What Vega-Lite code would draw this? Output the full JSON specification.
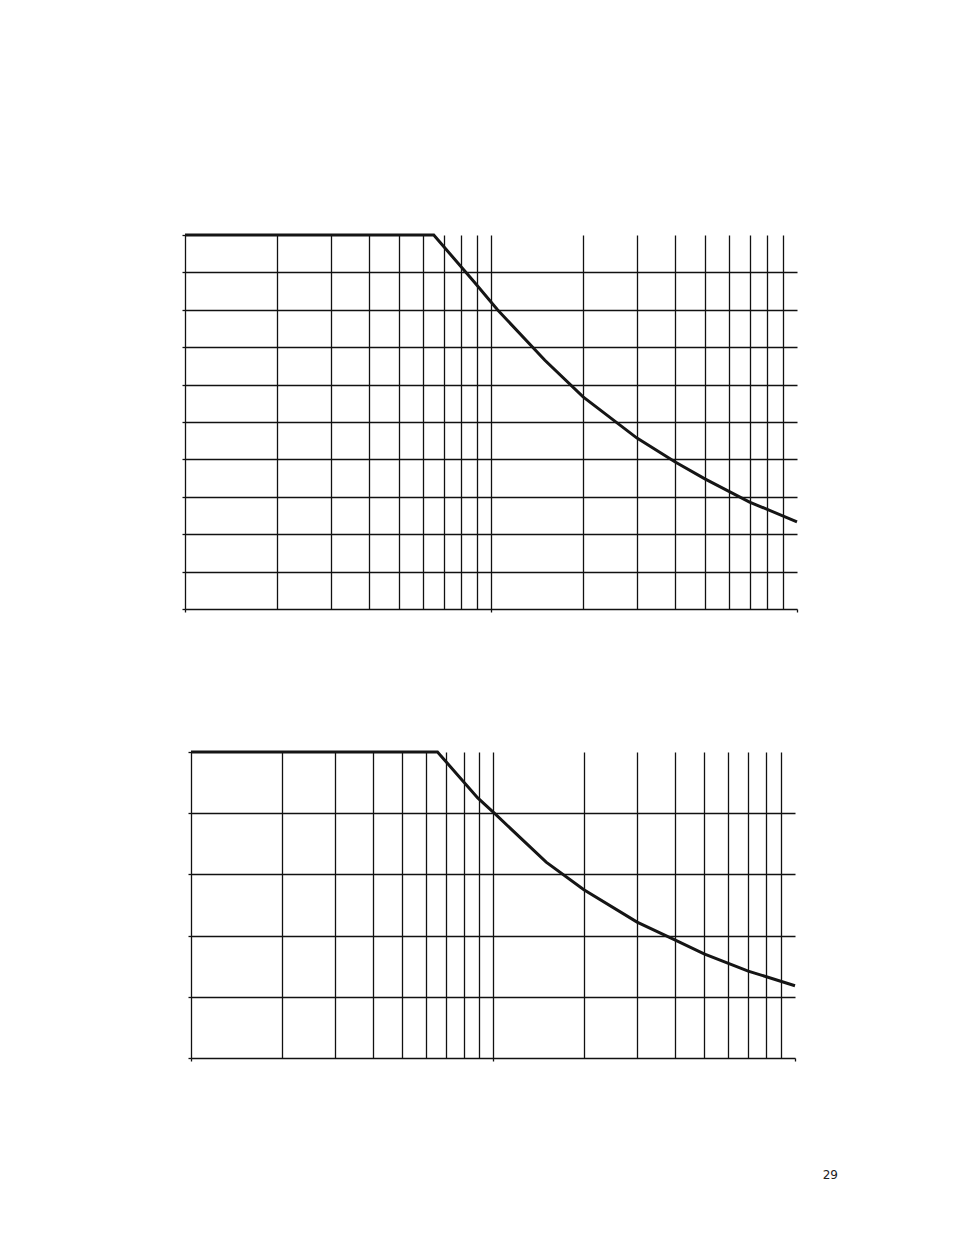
{
  "$schema": "https://vega.github.io/schema/vega-lite/v6.json",
  "background": "white",
  "padding": {"left": 179, "top": 229, "right": 10, "bottom": 10},
  "spacing": 133,
  "config": {
    "view": {"stroke": null},
    "axis": {
      "labels": false,
      "title": null,
      "domainColor": "#111111",
      "domainWidth": 1.3,
      "tickColor": "#111111",
      "tickWidth": 1.3,
      "tickSize": 3,
      "gridWidth": 1.3,
      "minExtent": 0
    }
  },
  "title": {
    "text": "29",
    "orient": "bottom",
    "anchor": "end",
    "offset": 108,
    "dx": 35,
    "fontSize": 12,
    "fontWeight": "normal",
    "font": "DejaVu Sans",
    "color": "#222222"
  },
  "datasets": {
    "upper": [
      {"x": 1, "y": 10},
      {"x": 6.5, "y": 10},
      {"x": 8.8, "y": 8.75},
      {"x": 10.5, "y": 8.0},
      {"x": 15, "y": 6.65},
      {"x": 20, "y": 5.67},
      {"x": 30, "y": 4.57},
      {"x": 40, "y": 3.93},
      {"x": 50, "y": 3.48},
      {"x": 70, "y": 2.86},
      {"x": 100, "y": 2.33}
    ],
    "lower": [
      {"x": 1, "y": 5},
      {"x": 6.55, "y": 5},
      {"x": 8.9, "y": 4.25},
      {"x": 10.1, "y": 4.0},
      {"x": 15, "y": 3.2},
      {"x": 20, "y": 2.75},
      {"x": 30, "y": 2.22},
      {"x": 40, "y": 1.93},
      {"x": 50, "y": 1.7},
      {"x": 70, "y": 1.42},
      {"x": 100, "y": 1.18}
    ]
  },
  "vconcat": [
    {
      "width": 612,
      "height": 374,
      "data": {"name": "upper"},
      "mark": {"type": "line", "color": "#151515", "strokeWidth": 3, "strokeJoin": "miter"},
      "encoding": {
        "x": {
          "field": "x",
          "type": "quantitative",
          "scale": {"type": "log", "domain": [1, 100], "nice": false},
          "axis": {
            "values": [1, 2, 3, 4, 5, 6, 7, 8, 9, 10, 20, 30, 40, 50, 60, 70, 80, 90, 100],
            "grid": true,
            "gridColor": {"condition": {"test": "datum.value == 1 || datum.value == 100", "value": "transparent"}, "value": "#111111"},
            "tickOpacity": {"condition": {"test": "datum.value == 1 || datum.value == 10 || datum.value == 100", "value": 1}, "value": 0}
          }
        },
        "y": {
          "field": "y",
          "type": "quantitative",
          "scale": {"domain": [0, 10], "nice": false},
          "axis": {
            "values": [0, 1, 2, 3, 4, 5, 6, 7, 8, 9, 10],
            "grid": true,
            "gridColor": {"condition": {"test": "datum.value == 0 || datum.value == 10", "value": "transparent"}, "value": "#111111"}
          }
        }
      }
    },
    {
      "width": 610,
      "height": 306,
      "data": {"name": "lower"},
      "mark": {"type": "line", "color": "#151515", "strokeWidth": 3, "strokeJoin": "miter"},
      "encoding": {
        "x": {
          "field": "x",
          "type": "quantitative",
          "scale": {"type": "log", "domain": [1, 100], "range": [6, 610], "nice": false},
          "axis": {
            "values": [1, 2, 3, 4, 5, 6, 7, 8, 9, 10, 20, 30, 40, 50, 60, 70, 80, 90, 100],
            "grid": true,
            "gridColor": {"condition": {"test": "datum.value == 1 || datum.value == 100", "value": "transparent"}, "value": "#111111"},
            "tickOpacity": {"condition": {"test": "datum.value == 1 || datum.value == 10 || datum.value == 100", "value": 1}, "value": 0}
          }
        },
        "y": {
          "field": "y",
          "type": "quantitative",
          "scale": {"domain": [0, 5], "nice": false},
          "axis": {
            "values": [0, 1, 2, 3, 4, 5],
            "offset": -6,
            "grid": true,
            "gridColor": {"condition": {"test": "datum.value == 0 || datum.value == 5", "value": "transparent"}, "value": "#111111"}
          }
        }
      }
    }
  ]
}
